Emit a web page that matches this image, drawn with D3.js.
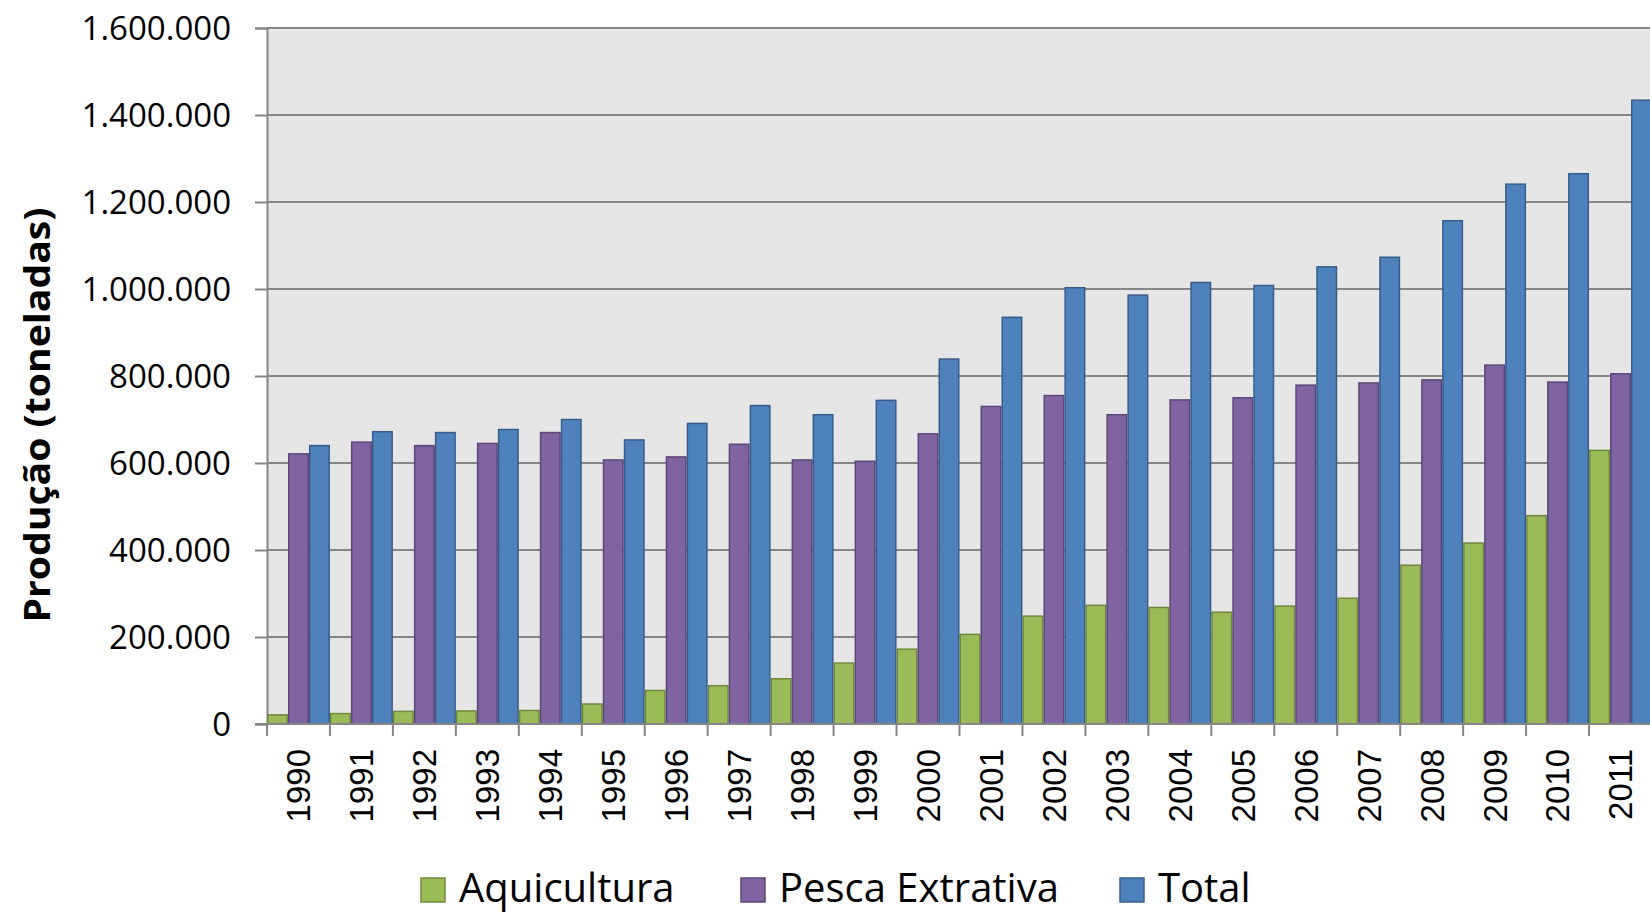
<!DOCTYPE html>
<html>
<head>
<meta charset="utf-8">
<script src="https://cdn.jsdelivr.net/npm/d3@7"></script>
<style>
  body { margin: 0; background: #fff; }
  svg { display: block; }
</style>
</head>
<body>
<svg id="chart"></svg>
<script>
// data (toneladas)
const years = ["1990","1991","1992","1993","1994","1995","1996","1997","1998","1999","2000",
               "2001","2002","2003","2004","2005","2006","2007","2008","2009","2010","2011"];
const aquicultura = [21000, 24000, 29000, 30000, 31000, 46000, 77000, 88000, 104000, 140000, 172000,
                     206000, 248000, 273000, 268000, 257000, 271000, 289000, 365000, 416000, 479000, 629000];
const pescaExtrativa = [621000, 648000, 640000, 645000, 670000, 607000, 614000, 643000, 607000, 604000, 667000,
                        730000, 755000, 711000, 745000, 750000, 779000, 784000, 791000, 825000, 786000, 805000];
const total = [640000, 672000, 670000, 677000, 700000, 653000, 691000, 732000, 711000, 744000, 839000,
               935000, 1003000, 986000, 1015000, 1008000, 1051000, 1073000, 1157000, 1241000, 1265000, 1434000];
const seriesNames = ["Aquicultura", "Pesca Extrativa", "Total"];
const yTicks = [0, 200000, 400000, 600000, 800000, 1000000, 1200000, 1400000, 1600000];

const WIDTH = 1650, HEIGHT = 915;
const PLOT = { left: 267, right: 1652, top: 28, bottom: 724 };
const COLORS = ["#9bbb59", "#8064a2", "#4f81bd"];
const STROKES = ["#71893f", "#5c4776", "#385d8a"];

const svg = d3.select('#chart')
  .attr('width', WIDTH)
  .attr('height', HEIGHT);

const series = [aquicultura, pescaExtrativa, total];
const rows = years.map((y, i) => ({ year: y, values: series.map((s, k) => ({ key: k, value: s[i] })) }));

// scales
const xScale = d3.scaleBand().domain(years).range([PLOT.left, PLOT.right]).padding(0);
const xSub = d3.scaleBand().domain([0, 1, 2]).range([0, xScale.bandwidth()]).padding(0);
const yScale = d3.scaleLinear().domain([0, 1600000]).range([PLOT.bottom, PLOT.top]);

const fmt = d => d3.format(',')(d).replace(/,/g, '.');

// plot background
svg.append('rect')
  .attr('x', PLOT.left).attr('y', PLOT.top)
  .attr('width', PLOT.right - PLOT.left).attr('height', PLOT.bottom - PLOT.top)
  .attr('fill', '#e6e6e6');

// gridlines + y axis
const yAxis = svg.append('g')
  .attr('transform', `translate(${PLOT.left},0)`)
  .call(d3.axisLeft(yScale).tickValues(yTicks).tickFormat(fmt).tickSize(12).tickPadding(24));
yAxis.select('.domain').attr('stroke', '#868686').attr('stroke-width', 2);
yAxis.selectAll('.tick line').attr('stroke', '#868686').attr('stroke-width', 2);
yAxis.selectAll('.tick text')
  .attr('fill', '#000')
  .attr('font-family', '"Open Sans", sans-serif')
  .attr('font-size', 33)
  .attr('dy', '0.36em');

svg.append('g').selectAll('line')
  .data(yTicks.filter(d => d > 0))
  .join('line')
  .attr('x1', PLOT.left).attr('x2', PLOT.right)
  .attr('y1', d => yScale(d)).attr('y2', d => yScale(d))
  .attr('stroke', '#868686').attr('stroke-width', 2);

// bars
const groups = svg.append('g').selectAll('g')
  .data(rows)
  .join('g')
  .attr('transform', d => `translate(${xScale(d.year)},0)`);

groups.selectAll('rect')
  .data(d => d.values)
  .join('rect')
  .attr('x', d => xSub(d.key) + 0.75)
  .attr('width', xSub.bandwidth() - 1.5)
  .attr('y', d => yScale(d.value))
  .attr('height', d => yScale(0) - yScale(d.value))
  .attr('fill', d => COLORS[d.key])
  .attr('stroke', d => STROKES[d.key])
  .attr('stroke-width', 1.5);

// x axis with ticks on band edges
const xAxis = svg.append('g')
  .attr('transform', `translate(0,${PLOT.bottom})`);
xAxis.append('line')
  .attr('x1', PLOT.left - 12).attr('x2', PLOT.right)
  .attr('stroke', '#868686').attr('stroke-width', 2);
xAxis.selectAll('.xtick')
  .data(years)
  .join('line')
  .attr('class', 'xtick')
  .attr('x1', d => xScale(d)).attr('x2', d => xScale(d))
  .attr('y1', 0).attr('y2', 12)
  .attr('stroke', '#868686').attr('stroke-width', 2);
xAxis.selectAll('.xlabel')
  .data(years)
  .join('text')
  .attr('class', 'xlabel')
  .attr('transform', d => `translate(${xScale(d) + xScale.bandwidth() / 2},25) rotate(-90)`)
  .attr('dy', '0.36em')
  .attr('text-anchor', 'end')
  .attr('font-family', '"Liberation Sans", Arial, sans-serif')
  .attr('font-size', 33)
  .attr('fill', '#000')
  .text(d => d);

// y axis title
svg.append('text')
  .attr('transform', 'translate(37,415) rotate(-90)')
  .attr('dy', '0.36em')
  .attr('text-anchor', 'middle')
  .attr('font-family', '"Open Sans", sans-serif')
  .attr('font-weight', 'bold')
  .attr('font-size', 36)
  .attr('textLength', 415)
  .attr('lengthAdjust', 'spacingAndGlyphs')
  .text('Produção (toneladas)');

// legend
const legendX = [421, 741, 1120];
const legend = svg.append('g').selectAll('g')
  .data(seriesNames)
  .join('g')
  .attr('transform', (d, i) => `translate(${legendX[i]},878)`);
legend.append('rect')
  .attr('width', 24).attr('height', 24)
  .attr('fill', (d, i) => COLORS[i])
  .attr('stroke', (d, i) => STROKES[i])
  .attr('stroke-width', 1.5);
legend.append('text')
  .attr('x', 38).attr('y', 24)
  .attr('font-family', '"Open Sans", sans-serif')
  .attr('font-size', 40)
  .attr('fill', '#000')
  .text(d => d);
</script>
</body>
</html>
